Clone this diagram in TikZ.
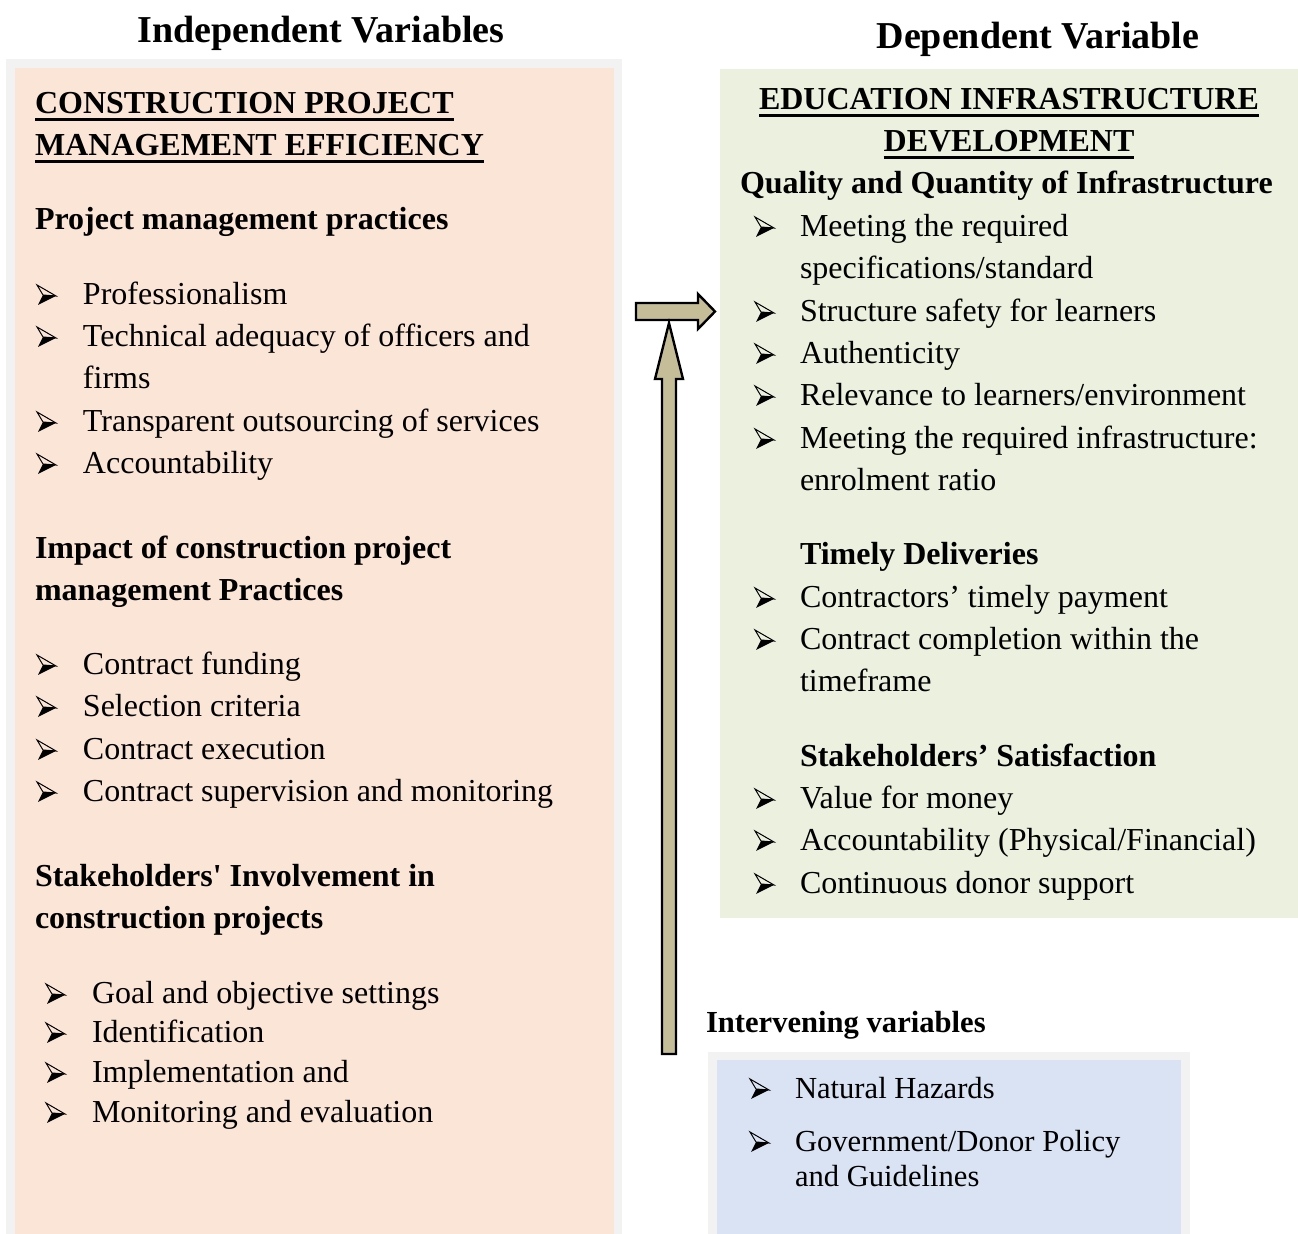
\documentclass[tikz,border=0pt]{standalone}
\usepackage{fontspec}
\setmainfont{Liberation Serif}
\usetikzlibrary{positioning}
\definecolor{peachfill}{HTML}{FBE5D6}
\definecolor{framegray}{HTML}{F2F2F2}
\definecolor{olivefill}{HTML}{EBF1DE}
\definecolor{bluefill}{HTML}{DAE3F3}
\definecolor{arrowtan}{HTML}{C4BD97}

\begin{document}
\begin{tikzpicture}[
  x=0.5pt,y=-0.5pt,
  every node/.style={inner sep=0pt,outer sep=0pt},
  txt/.style={anchor=base west,font=\fontsize{16}{19}\selectfont},
  head/.style={anchor=base west,font=\fontsize{16}{19}\selectfont\bfseries},
  title/.style={anchor=base,font=\fontsize{19}{22}\selectfont\bfseries},
  small/.style={anchor=base west,font=\fontsize{15.3}{18}\selectfont},
  ul/.style={line width=1.5pt},
  blockarrow/.style={draw=black,line width=1.2pt,fill=arrowtan,line join=miter},
  % arrowhead bullet, origin on the text baseline
  arrowbullet/.pic={
    \draw[line width=0.5pt,line join=miter] (0,-20) -- (19,-9) -- (6,-10) -- cycle;
    \fill[black] (6,-10) -- (19,-9) -- (1,0) -- cycle;
  },
]
\useasboundingbox (0,0) rectangle (1298,1234);

% ---- boxes ----
\fill[framegray] (6,59) rectangle (622,1234);
\fill[peachfill] (15,68) rectangle (614,1234);
\fill[olivefill] (720,69) rectangle (1298,918);
\fill[framegray] (708,1052) rectangle (1190,1234);
\fill[bluefill] (717,1060) rectangle (1181,1234);

% ---- titles ----
\node[title] (indep) at (321,43) {Independent Variables};
\node[title] (dep) at (1038,49) {Dependent Variable};

% ---- left: independent variables ----
\node[head] (cpm1) at (35,114) {CONSTRUCTION PROJECT};
\node[head] (cpm2) at (35,156) {MANAGEMENT EFFICIENCY};
\draw[ul] ([yshift=-2.8pt]cpm1.base west) -- ([yshift=-2.8pt]cpm1.base east);
\draw[ul] ([yshift=-2.8pt]cpm2.base west) -- ([yshift=-2.8pt]cpm2.base east);

\node[head] (pmp) at (35,230) {Project management practices};
\foreach \y/\t [count=\k] in {305/{Professionalism},
    347/{Technical adequacy of officers and},
    432/{Transparent outsourcing of services},
    474/{Accountability}}{
  \node[txt] (pmp\k) at (83,\y) {\t};
  \pic at (37,\y) {arrowbullet};
}
\node[txt] (pmp2b) at (83,389) {firms};

\node[head] (imp1) at (35,559) {Impact of construction project};
\node[head] (imp2) at (35,601) {management Practices};
\foreach \y/\t [count=\k] in {675/{Contract funding},
    717/{Selection criteria},
    760/{Contract execution},
    802/{Contract supervision and monitoring}}{
  \node[txt] (imp\k b) at (83,\y) {\t};
  \pic at (37,\y) {arrowbullet};
}

\node[head] (sti1) at (35,887) {Stakeholders\textquotesingle{} Involvement in};
\node[head] (sti2) at (35,929) {construction projects};
\foreach \y/\t [count=\k] in {1004/{Goal and objective settings},
    1043/{Identification},
    1083/{Implementation and},
    1123/{Monitoring and evaluation}}{
  \node[txt] (sti\k b) at (92,\y) {\t};
  \pic at (46,\y) {arrowbullet};
}

% ---- right: dependent variable ----
\node[head,anchor=base] (eid1) at (1009,110) {EDUCATION INFRASTRUCTURE};
\node[head,anchor=base] (eid2) at (1009,152) {DEVELOPMENT};
\draw[ul] ([yshift=-2.8pt]eid1.base west) -- ([yshift=-2.8pt]eid1.base east);
\draw[ul] ([yshift=-2.8pt]eid2.base west) -- ([yshift=-2.8pt]eid2.base east);

\node[head] (qq) at (740,194) {Quality and Quantity of Infrastructure};
\foreach \y/\t [count=\k] in {237/{Meeting the required},
    322/{Structure safety for learners},
    364/{Authenticity},
    406/{Relevance to learners/environment},
    449/{Meeting the required infrastructure:}}{
  \node[txt] (qq\k) at (800,\y) {\t};
  \pic at (755,\y) {arrowbullet};
}
\node[txt] (qq1b) at (800,279) {specifications/standard};
\node[txt] (qq5b) at (800,491) {enrolment ratio};

\node[head] (td) at (800,565) {Timely Deliveries};
\foreach \y/\t [count=\k] in {608/{Contractors’ timely payment},
    650/{Contract completion within the}}{
  \node[txt] (td\k) at (800,\y) {\t};
  \pic at (755,\y) {arrowbullet};
}
\node[txt] (td2b) at (800,692) {timeframe};

\node[head] (ss) at (800,767) {Stakeholders’ Satisfaction};
\foreach \y/\t [count=\k] in {809/{Value for money},
    851/{Accountability (Physical/Financial)},
    894/{Continuous donor support}}{
  \node[txt] (ss\k) at (800,\y) {\t};
  \pic at (755,\y) {arrowbullet};
}

% ---- intervening variables ----
\node[head,font=\fontsize{15.3}{18}\selectfont\bfseries] (iv) at (706,1033) {Intervening variables};
\node[small] (iv1) at (795,1099) {Natural Hazards};
\node[small] (iv2) at (795,1152) {Government/Donor Policy};
\node[small] (iv2b) at (795,1187) {and Guidelines};
\pic at (750,1099) {arrowbullet};
\pic at (750,1152) {arrowbullet};

% ---- block arrows ----
\draw[blockarrow] (636,303) -- (698,303) -- (698,294) -- (715,311.5)
  -- (698,329) -- (698,320) -- (636,320) -- cycle;
\draw[blockarrow] (662,1054) -- (662,379) -- (655,379) -- (669,323)
  -- (683,379) -- (676,379) -- (676,1054) -- cycle;
\end{tikzpicture}
\end{document}
